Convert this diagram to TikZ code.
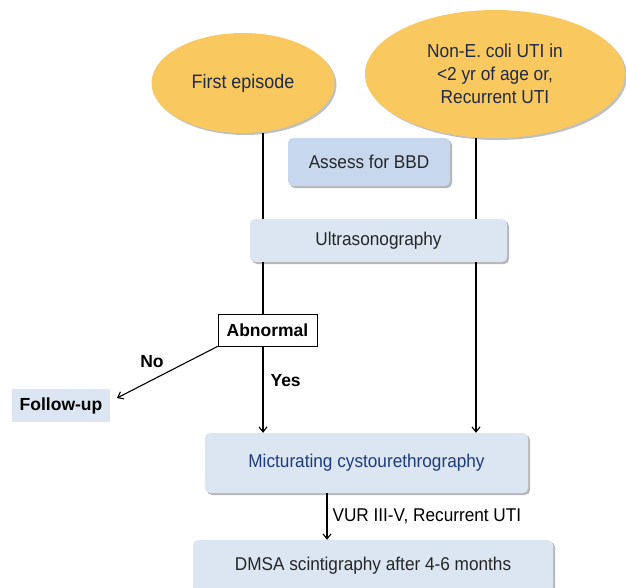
\documentclass[tikz,border=0pt]{standalone}
\usepackage{fontspec}
\setmainfont{Liberation Sans}
\newfontfamily\condfont[FakeStretch=0.93]{Liberation Sans}
\newfontfamily\ovalfont[FakeStretch=0.92]{Liberation Sans}
\usetikzlibrary{shapes.geometric,shadows,arrows.meta}
\definecolor{gold}{HTML}{F9C85E}
\definecolor{navy}{HTML}{1F2A44}
\definecolor{paleblue}{HTML}{DCE6F2}
\definecolor{midblue}{HTML}{C6D7EE}
\definecolor{txtblue}{HTML}{1F3C7A}
\begin{document}
\begin{tikzpicture}[x=1pt,y=-1pt,
  every node/.style={font=\condfont\fontsize{18.5}{22}\selectfont, inner sep=0pt},
  oval/.style={ellipse, fill=gold, text=navy, align=center,
     drop shadow={shadow xshift=2pt, shadow yshift=-2pt, opacity=0.35, fill=black!70}},
  rbox/.style={rounded corners=5pt, fill=paleblue, text=black!85,
     drop shadow={shadow xshift=2pt, shadow yshift=-2pt, opacity=0.4, fill=black!70}},
  boldtxt/.style={font=\bfseries\fontsize{17.5}{21}\selectfont},
  conn/.style={line width=1.1pt, black},
  arr/.style={conn, -{Straight Barb[length=5pt,width=8pt]}}
]
\useasboundingbox (0,0) rectangle (626,587);
\fill[white] (0,0) rectangle (626,587);

\node[oval, minimum width=183pt, minimum height=100pt,
  font=\ovalfont\fontsize{19.5}{23}\selectfont] (first) at (243,83) {First episode};
\node[oval, minimum width=260pt, minimum height=128pt,
  font=\ovalfont\fontsize{18.8}{23}\selectfont] (nonecoli) at (495,74)
  {Non-E. coli UTI in\\<2 yr of age or,\\Recurrent UTI};

\node[rbox, fill=midblue, minimum width=162pt, minimum height=48pt] (bbd) at (369,162) {Assess for BBD};
\node[rbox, minimum width=257pt, minimum height=43pt] (us) at (378.5,240.5) {Ultrasonography};

\node[draw=black, line width=0.8pt, fill=white, minimum width=99pt, minimum height=32pt,
  boldtxt] (abn) at (267.5,330) {Abnormal};
\node[fill=paleblue, minimum width=98pt, minimum height=33pt, boldtxt] (fu) at (61,405.5) {Follow-up};

\node[rbox, minimum width=323pt, minimum height=60pt, text=txtblue] (mcu) at (366.5,463) {Micturating cystourethrography};
\node[rbox, minimum width=360pt, minimum height=52pt] (dmsa) at (373,566) {DMSA scintigraphy after 4-6 months};

% connectors
\coordinate (lx) at (263,0);
\coordinate (rx) at (476,0);
\draw[conn] (first.south -| lx) -- (us.north -| lx);
\draw[conn] (nonecoli.south -| rx) -- (us.north -| rx);
\draw[conn] (us.south -| lx) -- (abn.north -| lx);
\draw[arr] (us.south -| rx) -- (mcu.north -| rx);
\draw[arr] (abn.south -| lx) -- node[right=7pt, pos=0.4, boldtxt] {Yes} (mcu.north -| lx);
\coordinate (fuend) at (117,398);
\draw[arr] (abn.south west) -- (fuend);
\node[boldtxt] (nolbl) at (152,362) {No};
\coordinate (mx) at (327,0);
\draw[arr] (mcu.south -| mx) -- node[right=5pt, pos=0.5] {VUR III-V, Recurrent UTI} (dmsa.north -| mx);
\end{tikzpicture}
\end{document}
